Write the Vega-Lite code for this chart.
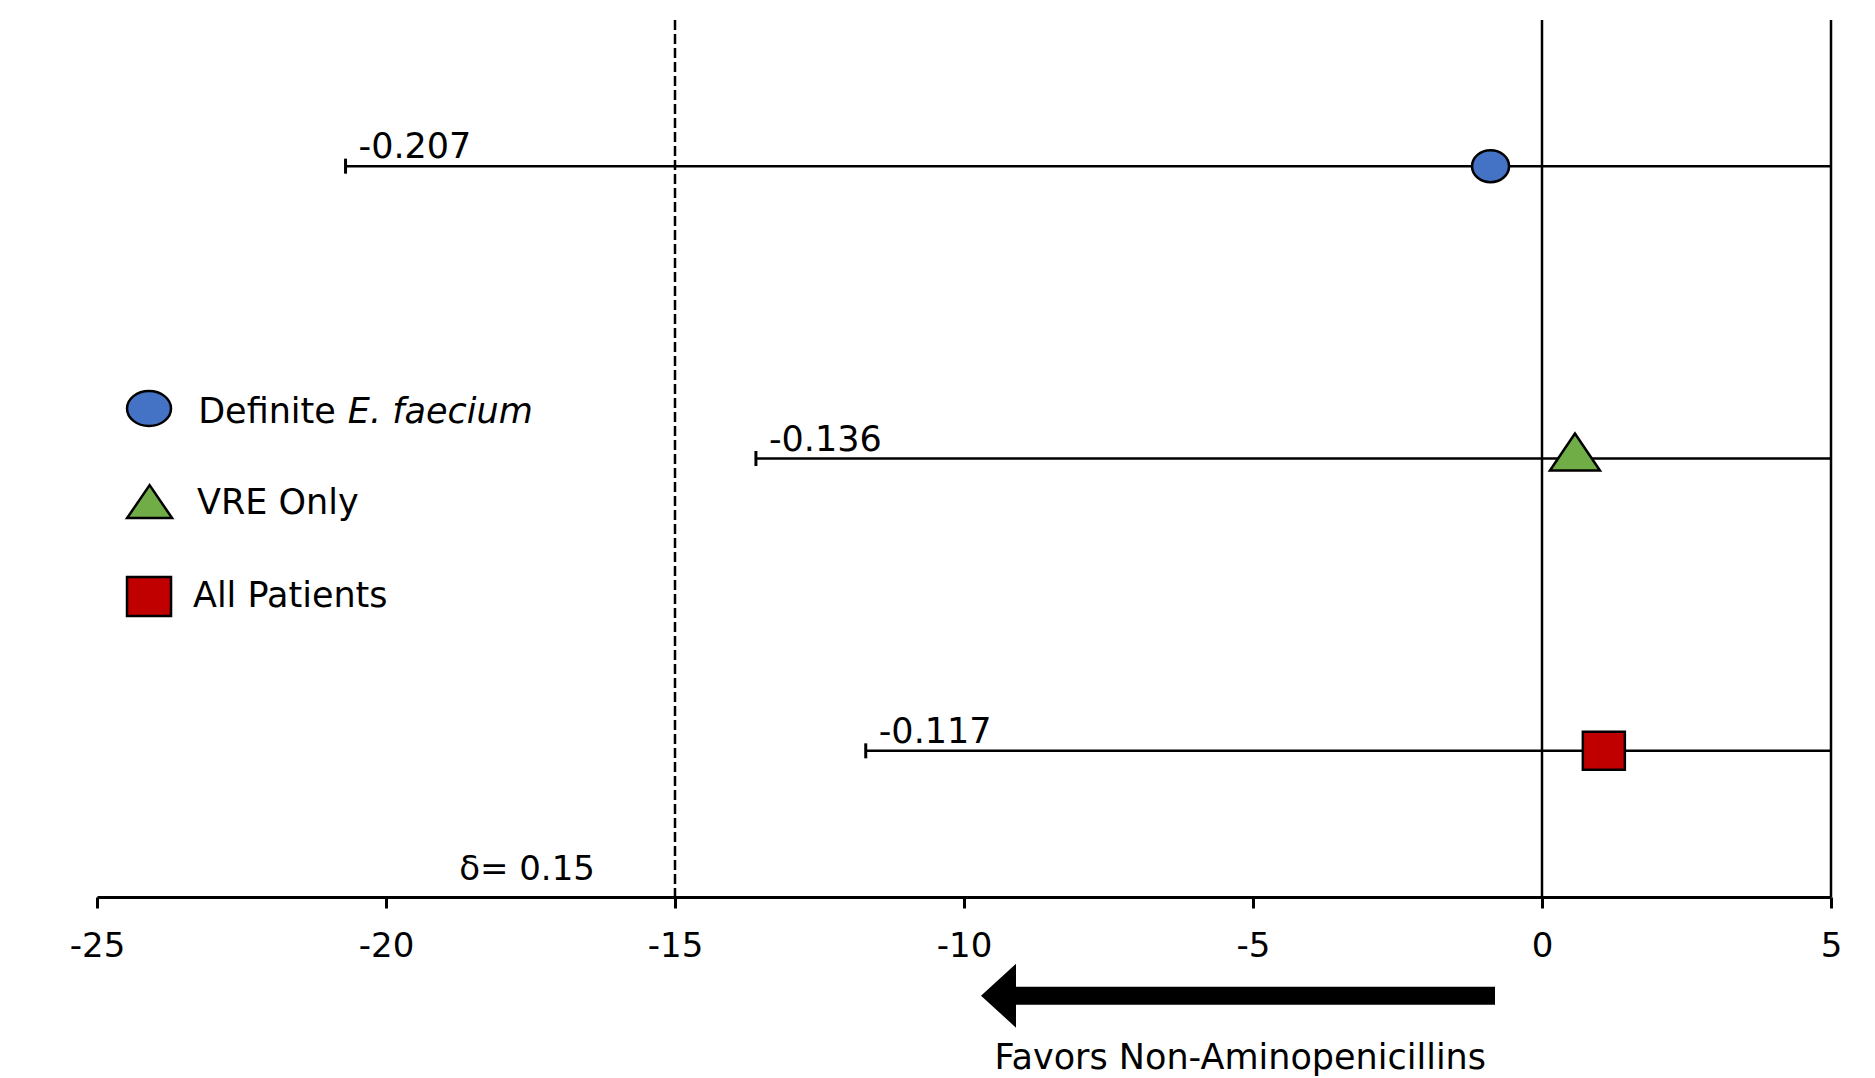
{
  "$schema": "https://vega.github.io/schema/vega-lite/v6.json",
  "width": 1734,
  "height": 877,
  "autosize": {"type": "none"},
  "padding": {"left": 97, "top": 20, "right": 44, "bottom": 181},
  "background": "white",
  "config": {
    "view": {"stroke": null},
    "font": "DejaVu Sans",
    "axis": {"grid": false}
  },
  "datasets": {
    "refs": [
      {"x": -15, "kind": "margin"},
      {"x": 0, "kind": "null"},
      {"x": 5, "kind": "bound"}
    ],
    "ci": [
      {"group": "Definite E. faecium", "est": -0.89, "lower": -20.7, "upper": 5, "row": 5, "label": "-0.207"},
      {"group": "VRE Only", "est": 0.57, "lower": -13.6, "upper": 5, "row": 3, "label": "-0.136"},
      {"group": "All Patients", "est": 1.07, "lower": -11.7, "upper": 5, "row": 1, "label": "-0.117"}
    ],
    "legend": [
      {"group": "Definite E. faecium", "sx": -24.1, "sy": 3.342, "tx": -23.25, "ty": 3.243, "text": "Definite"},
      {"group": "VRE Only", "sx": -24.09, "sy": 2.664, "tx": -23.27, "ty": 2.62, "text": "VRE Only"},
      {"group": "All Patients", "sx": -24.1, "sy": 2.056, "tx": -23.34, "ty": 1.984, "text": "All Patients"}
    ],
    "notes": [
      {"text": "δ= 0.15", "x": -17.56, "y": 0.116}
    ],
    "favors": [
      {"text": "Favors Non-Aminopenicillins", "x": -5.22, "y": -1.175}
    ],
    "arrow": [
      {"x": -9.2, "x2": -0.813, "hx": -9.403, "y": -0.675}
    ]
  },
  "layer": [
    {
      "data": {"name": "refs"},
      "mark": {"type": "rule", "color": "black", "strokeWidth": 2.5},
      "encoding": {
        "x": {"field": "x", "type": "quantitative", "scale": {"domain": [-25, 5], "nice": false, "zero": false},
          "axis": {"values": [-25, -20, -15, -10, -5, 0, 5], "title": null, "labelExpr": "'' + datum.value",
            "labelFont": "DejaVu Sans", "labelFontSize": 34, "labelColor": "black", "labelPadding": 21,
            "domainColor": "black", "domainWidth": 3, "tickColor": "black", "tickWidth": 3, "tickSize": 11, "labelFlush": false, "labelOverlap": false}},
        "strokeDash": {"field": "kind", "type": "nominal", "scale": {"domain": ["margin", "null", "bound"], "range": [[10, 4], [1, 0], [1, 0]]}, "legend": null}
      }
    },
    {
      "data": {"name": "ci"},
      "mark": {"type": "rule", "color": "black", "strokeWidth": 2.5},
      "encoding": {
        "x": {"field": "lower", "type": "quantitative"},
        "x2": {"field": "upper"},
        "y": {"field": "row", "type": "quantitative", "scale": {"domain": [0, 6], "nice": false, "zero": false}, "axis": null}
      }
    },
    {
      "data": {"name": "ci"},
      "mark": {"type": "point", "shape": "M 0 -0.3 L 0 0.3", "size": 2500, "filled": false, "stroke": "black", "strokeWidth": 3, "opacity": 1},
      "encoding": {
        "x": {"field": "lower", "type": "quantitative"},
        "y": {"field": "row", "type": "quantitative"}
      }
    },
    {
      "data": {"name": "ci"},
      "mark": {"type": "text", "align": "left", "baseline": "alphabetic", "dx": 13, "dy": -8, "fontSize": 35, "font": "DejaVu Sans", "color": "black"},
      "encoding": {
        "x": {"field": "lower", "type": "quantitative"},
        "y": {"field": "row", "type": "quantitative"},
        "text": {"field": "label"}
      }
    },
    {
      "data": {"name": "ci"},
      "mark": {"type": "point", "size": 2500, "filled": true, "stroke": "black", "strokeWidth": 2.5, "opacity": 1},
      "encoding": {
        "x": {"field": "est", "type": "quantitative"},
        "y": {"field": "row", "type": "quantitative"},
        "shape": {"field": "group", "type": "nominal", "legend": null, "scale": {"domain": ["Definite E. faecium", "VRE Only", "All Patients"], "range": [
          "M 0.74 0 C 0.74 0.353 0.409 0.64 0 0.64 C -0.409 0.64 -0.74 0.353 -0.74 0 C -0.74 -0.353 -0.409 -0.64 0 -0.64 C 0.409 -0.64 0.74 -0.353 0.74 0 Z",
          "M 0 -1 L 1 0.48 L -1 0.48 Z",
          "M -0.84 -0.76 L 0.84 -0.76 L 0.84 0.76 L -0.84 0.76 Z"]}},
        "fill": {"field": "group", "type": "nominal", "legend": null, "scale": {"domain": ["Definite E. faecium", "VRE Only", "All Patients"], "range": ["#4472C4", "#70AD47", "#C00000"]}}
      }
    },
    {
      "data": {"name": "legend"},
      "mark": {"type": "point", "size": 2500, "filled": true, "stroke": "black", "strokeWidth": 2.5, "opacity": 1},
      "encoding": {
        "x": {"field": "sx", "type": "quantitative"},
        "y": {"field": "sy", "type": "quantitative"},
        "shape": {"field": "group", "type": "nominal", "legend": null, "scale": {"domain": ["Definite E. faecium", "VRE Only", "All Patients"], "range": [
          "M 0.88 0 C 0.88 0.387 0.486 0.7 0 0.7 C -0.486 0.7 -0.88 0.387 -0.88 0 C -0.88 -0.387 -0.486 -0.7 0 -0.7 C 0.486 -0.7 0.88 -0.387 0.88 0 Z",
          "M 0 -0.9 L 0.9 0.42 L -0.9 0.42 Z",
          "M -0.88 -0.78 L 0.88 -0.78 L 0.88 0.78 L -0.88 0.78 Z"]}},
        "fill": {"field": "group", "type": "nominal", "legend": null}
      }
    },
    {
      "data": {"name": "legend"},
      "mark": {"type": "text", "align": "left", "baseline": "alphabetic", "fontSize": 35, "font": "DejaVu Sans", "color": "black"},
      "encoding": {
        "x": {"field": "tx", "type": "quantitative"},
        "y": {"field": "ty", "type": "quantitative"},
        "text": {"field": "text"}
      }
    },
    {
      "data": {"values": [{"text": "E. faecium", "x": -20.66, "y": 3.243}]},
      "mark": {"type": "text", "align": "left", "baseline": "alphabetic", "fontSize": 35, "font": "DejaVu Sans", "fontStyle": "italic", "color": "black"},
      "encoding": {
        "x": {"field": "x", "type": "quantitative"},
        "y": {"field": "y", "type": "quantitative"},
        "text": {"field": "text"}
      }
    },
    {
      "data": {"name": "notes"},
      "mark": {"type": "text", "align": "center", "baseline": "alphabetic", "fontSize": 34, "font": "DejaVu Sans", "color": "black"},
      "encoding": {
        "x": {"field": "x", "type": "quantitative"},
        "y": {"field": "y", "type": "quantitative"},
        "text": {"field": "text"}
      }
    },
    {
      "data": {"name": "favors"},
      "mark": {"type": "text", "align": "center", "baseline": "alphabetic", "fontSize": 35, "font": "DejaVu Sans", "color": "black"},
      "encoding": {
        "x": {"field": "x", "type": "quantitative"},
        "y": {"field": "y", "type": "quantitative"},
        "text": {"field": "text"}
      }
    },
    {
      "data": {"name": "arrow"},
      "mark": {"type": "rule", "color": "black", "strokeWidth": 18},
      "encoding": {
        "x": {"field": "x", "type": "quantitative"},
        "x2": {"field": "x2"},
        "y": {"field": "y", "type": "quantitative"}
      }
    },
    {
      "data": {"name": "arrow"},
      "mark": {"type": "point", "shape": "M -0.7 0 L 0.7 -1.28 L 0.7 1.28 Z", "size": 2500, "filled": true, "fill": "black", "strokeWidth": 0, "opacity": 1},
      "encoding": {
        "x": {"field": "hx", "type": "quantitative"},
        "y": {"field": "y", "type": "quantitative"}
      }
    }
  ],
  "resolve": {"scale": {"shape": "independent", "strokeDash": "independent"}}
}
